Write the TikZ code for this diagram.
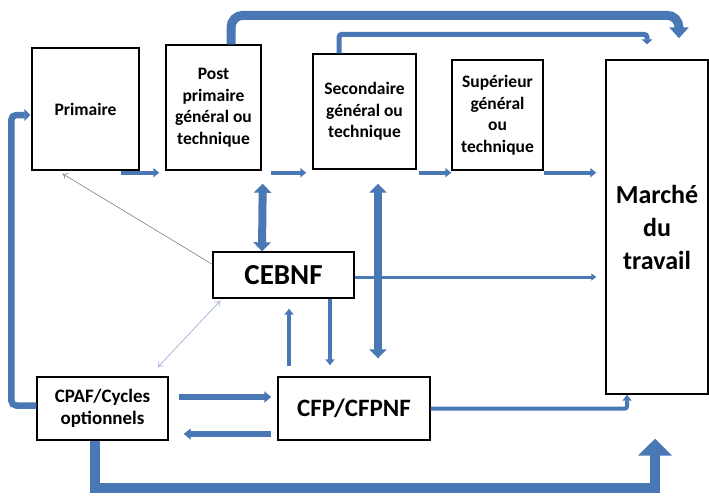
\documentclass[tikz,border=0pt]{standalone}
\usepackage{fontspec}
\setmainfont{Carlito}
\usetikzlibrary{arrows,arrows.meta,positioning,calc}
\definecolor{flow}{RGB}{74,120,181}
\definecolor{pale}{RGB}{165,185,220}

\begin{document}
\begin{tikzpicture}[x = 1pt, y = -1pt]
%\draw[very thin, color = gray](0, 0) grid[step = 50] (709, 495);
\useasboundingbox (0, 0) rectangle (709, 495);
\tikzstyle{block} = [draw, rectangle, line width = 1.4pt, fill = white, align = center,
  inner sep = 0pt, font = \fontsize{17.5}{21.5}\selectfont\bfseries];
\tikzstyle{line} = [draw, color = flow, line width = 4pt, -{Triangle[length = 6pt, width = 9pt]}];
\tikzstyle{wide} = [draw, color = flow, line width = 6pt, -{Triangle[length = 7pt, width = 11pt]}];
\tikzstyle{dbl} = [draw, color = flow, line width = 8pt,
  {Triangle[length = 9pt, width = 17pt]}-{Triangle[length = 9pt, width = 17pt]}];
\tikzstyle{fat} = [draw, color = flow, line width = 10pt, -{Triangle[length = 17pt, width = 33pt]}];
\tikzstyle{faint} = [draw, color = gray, line width = 0.6pt, -{To[length = 5pt, width = 7pt]}];
\tikzstyle{soft} = [draw, color = pale, line width = 0.8pt,
  {To[length = 5pt, width = 7pt]}-{To[length = 5pt, width = 7pt]}];
\node [block, minimum width = 107, minimum height = 122] at (85.5, 109) (prim) {Primaire};
\node [block, minimum width = 95, minimum height = 125] at (213.5, 107.5) (post) {Post\\ primaire\\ général ou\\ technique};
\node [block, minimum width = 103, minimum height = 115] at (364.5, 111.5) (sec) {Secondaire\\ général ou\\ technique};
\node [block, minimum width = 91, minimum height = 110] at (497.5, 115) (sup) {Supérieur\\ général\\ ou\\ technique};
\node [block, minimum width = 102, minimum height = 334, font = \fontsize{26}{33}\selectfont\bfseries]
  at (657, 227) (march) {Marché\\ du\\ travail};
\node [block, minimum width = 141, minimum height = 46, font = \fontsize{29}{34}\selectfont\bfseries]
  at (283.5, 275) (cebnf) {CEBNF};
\node [block, minimum width = 131, minimum height = 63, font = \fontsize{19}{22.5}\selectfont\bfseries]
  at (102.5, 408.5) (cpaf) {CPAF/Cycles\\ optionnels};
\node [block, minimum width = 152, minimum height = 63, font = \fontsize{25}{30}\selectfont\bfseries]
  at (354, 408.5) (cfp) {CFP/CFPNF};
% top row
\path [line] ($(prim.south east) + (-19, 2)$) -- ($(post.south west) + (-6, 2)$);
\path [line] ($(post.south east) + (9, 2)$) -- ($(sec.south west) + (-6, 3)$);
\path [line] ($(sec.south east) + (2, 3)$) -- ($(sup.south west) + (0, 2)$);
\path [line] ($(sup.south east) + (0, 2)$) -- ($(sup.south east -| march.west) + (-9, 2)$);
% over the top
\path [draw, color = flow, line width = 9pt, rounded corners = 12, -{Triangle[length = 11pt, width = 19pt]}]
  ($(post.north) + (17.5, 0)$) |- ($(march.north) + (22, -44)$) -- ($(march.north) + (22, -21)$);
\path [draw, color = flow, line width = 5pt, rounded corners = 3, -{Triangle[length = 5pt, width = 11pt]}]
  ($(sec.north) + (-25.5, 0)$) |- ($(march.north) + (-10, -25)$) -- ($(march.north) + (-10, -15)$);
% around CEBNF
\path [dbl] ($(post.south east) + (1, 13)$) -- ($(cebnf.north) + (-21.5, 0)$);
\path [dbl] ($(sec.south) + (13.5, 14)$) -- ($(cfp.north) + (24, -18)$);
\path [draw, color = flow, line width = 3pt, -{Triangle[length = 5pt, width = 7pt]}]
  ($(cebnf.east) + (0, 2)$) -- ($(cebnf.east -| march.west) + (-9, 2)$);
\path [line] ($(cebnf.south) + (46.5, 0)$) -- ($(cfp.north) + (-24, -11)$);
\path [line] ($(cfp.north) + (-65, -10)$) -- ($(cebnf.south) + (5.5, 10)$);
\path [faint] ($(cebnf.north west) + (0, 13)$) -- ($(prim.south) + (-23, 3)$);
\path [soft] ($(cebnf.south west) + (8, 2)$) -- ($(cpaf.north east) + (-11, -9)$);
% bottom row
\path [wide] ($(cpaf.east) + (10, -11.5)$) -- ($(cfp.west) + (-6, -11.5)$);
\path [wide] ($(cfp.west) + (-6, 25.5)$) -- ($(cpaf.east) + (15, 25.5)$);
\path [line, rounded corners = 2] (cfp.east) -| ($(march.south) + (-30, 0)$);
\path [fat] ($(cpaf.south) + (-7.5, 0)$) -- ++(0, 47) -| ($(march.south) + (-2, 44)$);
\path [draw, color = flow, line width = 6.5pt, rounded corners = 5, -{Triangle[length = 6pt, width = 12pt]}]
  ($(cpaf.west) + (0, -3)$) -- ++(-25, 0) |- ($(prim.west) + (-1, 6)$);
\end{tikzpicture}
\end{document}
